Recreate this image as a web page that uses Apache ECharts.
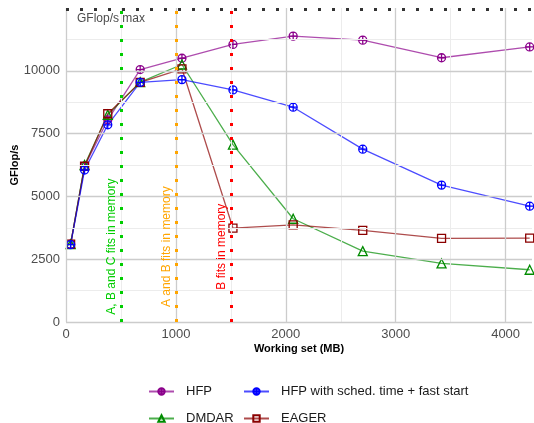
<!DOCTYPE html>
<html>
<head>
<meta charset="utf-8">
<script src="https://cdn.jsdelivr.net/npm/echarts@6/dist/echarts.min.js"></script>
<style>
  html, body { margin: 0; padding: 0; background: #fff; }
  #chart { width: 534px; height: 423px; }
</style>
</head>
<body>
<div id="chart"></div>
<script>
// working set (MB) for each matrix size
const workingSet = [42, 169, 380, 675, 1055, 1519, 2067, 2700, 3417, 4219]

// GFlop/s per scheduler
const hfp = [3100, 6200, 8050, 10050, 10500, 11050, 11380, 11220, 10520, 10950]
const hfpSched = [3080, 6050, 7850, 9540, 9650, 9240, 8550, 6880, 5450, 4610]
const dmdar = [3100, 6250, 8250, 9550, 10250, 7060, 4110, 2820, 2330, 2080]
const eager = [3100, 6200, 8290, 9540, 10080, 3740, 3870, 3645, 3330, 3340]

const gflopsMax = 12450

// memory thresholds (MB)
const memLimits = [500, 1000, 1500]
const memLabels = ['A, B and C fits in memory', 'A and B fits in memory', 'B fits in memory']
const memColors = ['#00cd00', '#ffa500', '#ff0000']
const memLabelY = [0, 6000]

// axis ticks
const xTicks = [0, 1000, 2000, 3000, 4000]
const xMinor = [500, 1500, 2500, 3500]
const yTicks = [0, 2500, 5000, 7500, 10000]
const yMinor = [1250, 3750, 6250, 8750, 11250]

const FONT = "'Liberation Sans', Arial, sans-serif"
const CIRCLE_PLUS = 'path://M10,0A10,10 0 1,1 -10,0A10,10 0 1,1 10,0ZM-10,0L10,0M0,-10L0,10'

const chart = echarts.init(document.getElementById('chart'), null, { renderer: 'canvas' })

function gridLines(values, axis, color, width) {
  return values.map(v => ({
    [axis]: v,
    lineStyle: { color, width, type: 'solid' },
  }))
}

function makeSeries(name, values, color, symbol, size) {
  return {
    name,
    type: 'line',
    z: 3,
    data: workingSet.map((x, i) => [x, values[i]]),
    symbol,
    symbolSize: size,
    showAllSymbol: true,
    itemStyle: { color: 'rgba(255,255,255,0)', borderColor: color, borderWidth: 1.3 },
    lineStyle: { color, width: 1.3, opacity: 0.7 },
    emphasis: { disabled: true },
  }
}

// legend laid out as a 2x2 grid, one component per entry
function legendItem(name, left, top) {
  return {
    data: [name],
    left,
    top,
    itemWidth: 25,
    itemHeight: 8,
    textStyle: { color: '#1a1a1a', fontFamily: FONT, fontSize: 13, padding: [0, 0, 0, 7] },
  }
}

const memLines = memLimits.map((x, i) => ({
  xAxis: x,
  label: { show: false },
  lineStyle: { color: memColors[i], width: 3, type: [3, 11], cap: 'butt' },
}))

const memTexts = memLimits.map((x, i) => [
  {
    coord: [x, memLabelY[0]],
    lineStyle: { color: 'rgba(0,0,0,0)', width: 0 },
    label: {
      show: true,
      formatter: memLabels[i],
      position: 'insideMiddleTop',
      distance: 3,
      color: memColors[i],
      fontFamily: FONT,
      fontSize: 12,
    },
  },
  { coord: [x, memLabelY[1]] },
])

const axisLabel = {
  color: '#4d4d4d',
  fontFamily: FONT,
  fontSize: 13,
  margin: 6,
  showMaxLabel: false,
  formatter: v => String(v),
}

const option = {
  animation: false,
  grid: { left: 66, right: 2, top: 8, bottom: 101, containLabel: false, outerBoundsMode: 'none' },
  xAxis: {
    type: 'value',
    min: 0,
    max: 4240,
    interval: 1000,
    name: 'Working set (MB)',
    nameLocation: 'middle',
    nameGap: 21,
    nameMoveOverlap: false,
    nameTextStyle: { color: '#000', fontFamily: FONT, fontSize: 11, fontWeight: 'bold' },
    axisLine: { show: false },
    axisTick: { show: false },
    splitLine: { show: false },
    axisLabel,
  },
  yAxis: {
    type: 'value',
    min: 0,
    max: 12500,
    interval: 2500,
    name: 'GFlop/s',
    nameLocation: 'middle',
    nameGap: 46,
    nameMoveOverlap: false,
    nameRotate: 90,
    nameTextStyle: { color: '#000', fontFamily: FONT, fontSize: 11, fontWeight: 'bold' },
    axisLine: { show: false },
    axisTick: { show: false },
    splitLine: { show: false },
    axisLabel,
  },
  legend: [
    legendItem('HFP', 143, 380),
    legendItem('HFP with sched. time + fast start', 238, 380),
    legendItem('DMDAR', 143, 407),
    legendItem('EAGER', 238, 407),
  ],
  series: [
    {
      name: 'grid',
      type: 'line',
      z: 1,
      data: [],
      silent: true,
      markLine: {
        silent: true,
        symbol: 'none',
        label: { show: false },
        data: [
          ...gridLines(xMinor, 'xAxis', '#ececec', 1),
          ...gridLines(yMinor, 'yAxis', '#ececec', 1),
          ...gridLines(xTicks, 'xAxis', '#cccccc', 1.3),
          ...gridLines(yTicks, 'yAxis', '#cccccc', 1.3),
        ],
      },
    },
    {
      name: 'limits',
      type: 'line',
      z: 2,
      data: [],
      silent: true,
      markLine: {
        silent: true,
        symbol: 'none',
        data: [
          ...memLines,
          ...memTexts,
          {
            yAxis: gflopsMax,
            lineStyle: { color: '#333333', width: 3, type: [3, 11], cap: 'butt' },
            label: {
              show: true,
              formatter: 'GFlop/s max',
              position: 'insideStartBottom',
              distance: [11, 3],
              color: '#4d4d4d',
              fontFamily: FONT,
              fontSize: 12,
            },
          },
        ],
      },
    },
    makeSeries('HFP', hfp, '#8b008b', CIRCLE_PLUS, 8),
    makeSeries('DMDAR', dmdar, '#008b00', 'triangle', 9),
    makeSeries('EAGER', eager, '#8b0000', 'rect', 8),
    makeSeries('HFP with sched. time + fast start', hfpSched, '#0000ff', CIRCLE_PLUS, 8),
  ],
}

chart.setOption(option)
</script>
</body>
</html>
